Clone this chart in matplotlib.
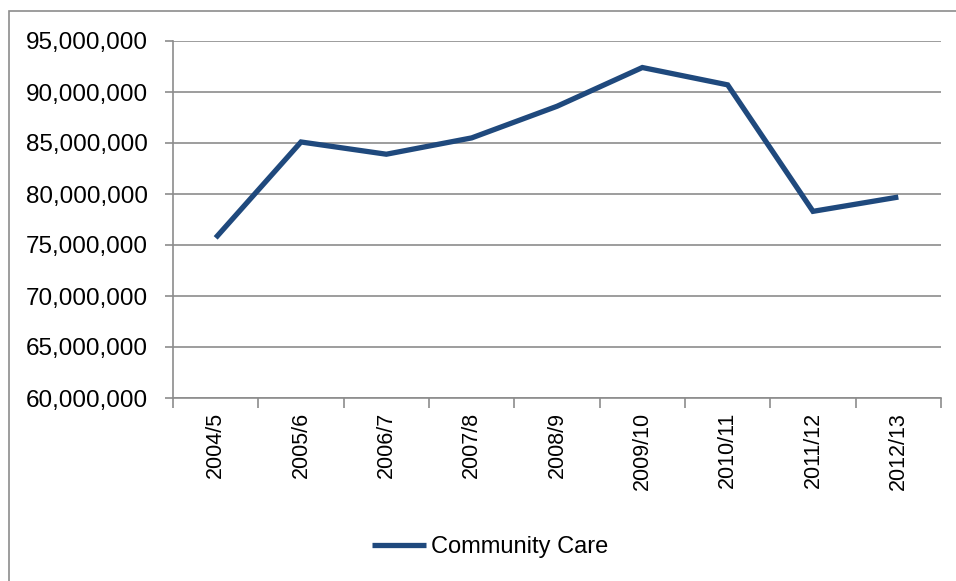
import matplotlib
matplotlib.use("Agg")
from matplotlib import pyplot as plt
from matplotlib.patches import Rectangle
from matplotlib.ticker import FuncFormatter, FixedLocator
import numpy as np

years = ['2004/5', '2005/6', '2006/7', '2007/8', '2008/9',
         '2009/10', '2010/11', '2011/12', '2012/13']
community_care = [75.7e6, 85.1e6, 83.9e6, 85.5e6, 88.6e6,
                  92.4e6, 90.7e6, 78.3e6, 79.7e6]

plt.rcParams['font.family'] = ['Liberation Sans', 'DejaVu Sans']
grid_col = '#8c8c8c'
line_col = '#1f497d'

fig = plt.figure(figsize=(9.56, 5.81), dpi=100)
ax = fig.add_axes([173 / 956, 1 - 398 / 581, (941 - 173) / 956, (398 - 41) / 581])

# chart area border (runs off the right and bottom edges)
fig.patches.append(Rectangle((9 / 956, -0.05), 1.0, 1 - 11 / 581 + 0.05,
                             transform=fig.transFigure, fill=False,
                             edgecolor='#8c8c8c', linewidth=1.2))

x = np.arange(len(years))
ax.plot(x, community_care, color=line_col, linewidth=3.8,
        solid_joinstyle='miter', solid_capstyle='butt', label='Community Care')

ax.set_xlim(-0.5, len(years) - 0.5)
ax.set_ylim(60e6, 95e6)
ax.set_yticks(np.arange(60e6, 95e6 + 1, 5e6))
ax.yaxis.set_major_formatter(FuncFormatter(lambda v, p: f'{int(v):,}'))
ax.grid(axis='y', color=grid_col, linewidth=1.2)
ax.set_axisbelow(True)

ax.set_xticks(x)
ax.set_xticklabels(years, rotation=90)
ax.xaxis.set_minor_locator(FixedLocator(np.arange(-0.5, len(years), 1.0)))
ax.tick_params(axis='x', which='major', length=0, pad=10, labelsize=15.5)
ax.tick_params(axis='x', which='minor', length=7, color=grid_col, width=1.2)
ax.tick_params(axis='y', length=6, color=grid_col, width=1.2, pad=12, labelsize=17.5)

for s in ['top', 'right']:
    ax.spines[s].set_visible(False)
for s in ['left', 'bottom']:
    ax.spines[s].set_color(grid_col)
    ax.spines[s].set_linewidth(1.2)

leg = fig.legend(loc='center', bbox_to_anchor=(490 / 956, 1 - 547 / 581),
                 frameon=False, fontsize=17, handlelength=2.3,
                 handletextpad=0.2)

plt.savefig('out.png', dpi=100)
